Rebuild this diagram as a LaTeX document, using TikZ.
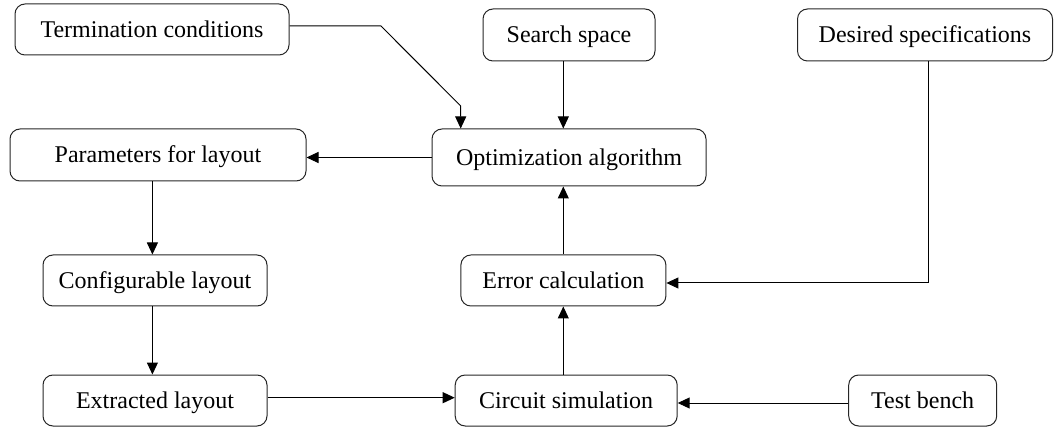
\documentclass[tikz,border=0pt]{standalone}
\usepackage{fontspec}
\setmainfont{Liberation Serif}
\usetikzlibrary{arrows.meta}
\begin{document}
\begin{tikzpicture}[x=1pt,y=-1pt,
  box/.style={draw=black!85,line width=1pt,rounded corners=10pt,inner sep=0pt,
    text height=16pt,text depth=0pt,align=center,
    font=\fontsize{24pt}{28pt}\selectfont},
  arr/.style={draw=black,line width=1pt,-{Triangle[length=12pt,width=11pt]}}]
\useasboundingbox (0,0) rectangle (1054,427);
% nodes
\node[box,minimum width=274pt,minimum height=51pt] (term) at (152,29.5) {Termination conditions};
\node[box,minimum width=172pt,minimum height=52pt] (search) at (569,35) {Search space};
\node[box,minimum width=255pt,minimum height=52pt] (desired) at (925,35) {Desired specifications};
\node[box,minimum width=296pt,minimum height=52pt] (params) at (158,155) {Parameters for layout};
\node[box,minimum width=274pt,minimum height=57pt] (opt) at (569,157.5) {Optimization algorithm};
\node[box,minimum width=224pt,minimum height=51pt] (config) at (155,280.5) {Configurable layout};
\node[box,minimum width=205pt,minimum height=51pt] (error) at (563.4,280.5) {Error calculation};
\node[box,minimum width=224pt,minimum height=51pt] (extracted) at (155,400.5) {Extracted layout};
\node[box,minimum width=222pt,minimum height=51pt] (circuit) at (566.2,400.5) {Circuit simulation};
\node[box,minimum width=148pt,minimum height=51pt] (test) at (922.7,400.5) {Test bench};
% helper coordinates
\coordinate (t1) at (381,26);
\coordinate (t2) at (460.7,106);
\coordinate (sx) at (563.3,0);
\coordinate (dx) at (928,0);
\coordinate (ey) at (0,283);
\coordinate (lx) at (152.4,0);
\coordinate (xy) at (0,397.7);
\coordinate (ty) at (0,403);
% connectors
\draw[arr] (term.east |- t1) -- (t1) -- (t2) -- (opt.north -| t2);
\draw[arr] (search.south -| sx) -- (opt.north -| sx);
\draw[arr] (desired.south -| dx) -- (dx |- ey) -- (error.east |- ey);
\draw[arr] (opt.west) -- (params.east |- opt.west);
\draw[arr] (params.south -| lx) -- (config.north -| lx);
\draw[arr] (config.south -| lx) -- (extracted.north -| lx);
\draw[arr] (extracted.east |- xy) -- (circuit.west |- xy);
\draw[arr] (test.west |- ty) -- (circuit.east |- ty);
\draw[arr] (circuit.north -| sx) -- (error.south -| sx);
\draw[arr] (error.north -| sx) -- (opt.south -| sx);
\end{tikzpicture}
\end{document}
